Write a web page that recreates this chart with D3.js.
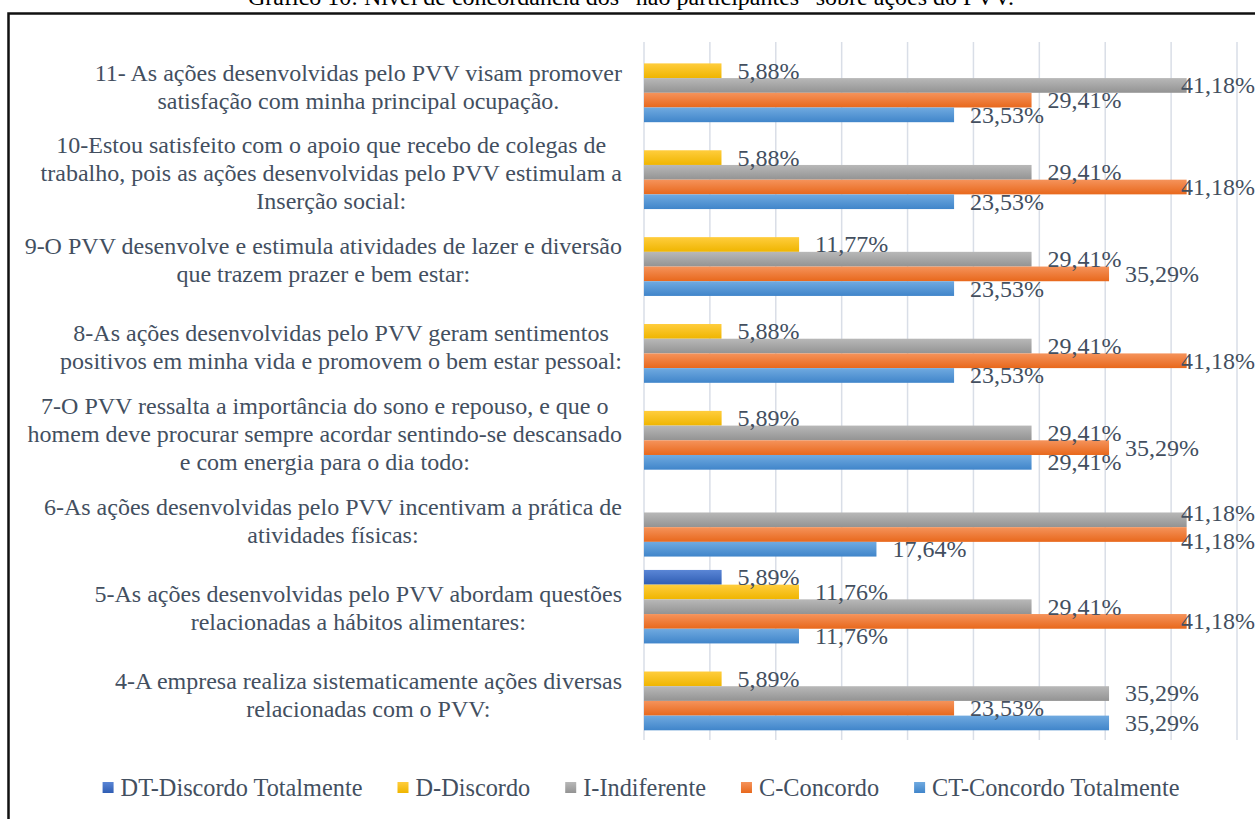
<!DOCTYPE html>
<html>
<head>
<meta charset="utf-8">
<script src="https://cdn.jsdelivr.net/npm/d3@7"></script>
<style>
  body { margin: 0; background: #fff; }
  svg { display: block; font-family: "Liberation Serif", "Times New Roman", serif; }
</style>
</head>
<body>
<svg id="chart"></svg>
<script>
// categories, top to bottom, each one split into its printed lines
var categories = ["11", "10", "9", "8", "7", "6", "5", "4"];
var categoryLines = [
  ["11- As ações desenvolvidas pelo PVV visam promover", "satisfação com minha principal ocupação."],
  ["10-Estou satisfeito com o apoio que recebo de colegas de", "trabalho, pois as ações desenvolvidas pelo PVV estimulam a", "Inserção social:"],
  ["9-O PVV desenvolve e estimula atividades de lazer e diversão", "que trazem prazer e bem estar:"],
  ["8-As ações desenvolvidas pelo PVV geram sentimentos", "positivos em minha vida e promovem o bem estar pessoal:"],
  ["7-O PVV ressalta a importância do sono e repouso, e que o", "homem deve procurar sempre acordar sentindo-se descansado", "e com energia para o dia todo:"],
  ["6-As ações desenvolvidas pelo PVV incentivam a prática de", "atividades físicas:"],
  ["5-As ações desenvolvidas pelo PVV abordam questões", "relacionadas a hábitos alimentares:"],
  ["4-A empresa realiza sistematicamente ações diversas", "relacionadas com o PVV:"]
];
var seriesNames = ["DT-Discordo Totalmente", "D-Discordo", "I-Indiferente", "C-Concordo", "CT-Concordo Totalmente"];
// one value per category (same order as categories), null = no bar
var dtValues = [null, null, null, null, null, null, 5.89, null];
var dValues  = [5.88, 5.88, 11.77, 5.88, 5.89, null, 11.76, 5.89];
var iValues  = [41.18, 29.41, 29.41, 29.41, 29.41, 41.18, 29.41, 35.29];
var cValues  = [29.41, 41.18, 35.29, 41.18, 35.29, 41.18, 41.18, 23.53];
var ctValues = [23.53, 23.53, 23.53, 23.53, 29.41, 17.64, 11.76, 35.29];
var xTicks = [0, 5, 10, 15, 20, 25, 30, 35, 40, 45];
var title = "Gráfico 10: Nível de concordância dos “não participantes” sobre ações do PVV.";

var seriesValues = [dtValues, dValues, iValues, cValues, ctValues];
var gradients = [
  ["#5a86d6", "#2f5db3"],
  ["#ffcd3d", "#efb500"],
  ["#b8b8b8", "#939393"],
  ["#f5935b", "#e8681c"],
  ["#70aae0", "#4085ca"]
];
var textColor = "#434f5f";
var fontSize = "24px";

var W = 1255, H = 819;
var svg = d3.select("#chart").attr("width", W).attr("height", H);

var defs = svg.append("defs");
gradients.forEach(function(g, i) {
  var lg = defs.append("linearGradient").attr("id", "grad" + i)
    .attr("x1", 0).attr("y1", 0).attr("x2", 0).attr("y2", 1);
  lg.append("stop").attr("offset", "0%").attr("stop-color", g[0]);
  lg.append("stop").attr("offset", "100%").attr("stop-color", g[1]);
});

// title (cut by the top of the page) and frame
svg.append("text")
  .attr("x", 631).attr("y", 5)
  .attr("text-anchor", "middle")
  .style("font-size", fontSize)
  .attr("fill", "#000")
  .text(title);

svg.append("rect")
  .attr("x", 8.5).attr("y", 13.5)
  .attr("width", 1300).attr("height", 900)
  .attr("fill", "none")
  .attr("stroke", "#111")
  .attr("stroke-width", 2.5);

var plot = { left: 644, right: 1237, top: 42, bottom: 737 };

var x = d3.scaleLinear().domain([0, 45]).range([plot.left, plot.right]);
var y = d3.scaleBand().domain(categories)
  .range([plot.top, plot.bottom])
  .paddingInner(0.154).paddingOuter(0.077);
var ys = d3.scaleBand().domain(d3.range(seriesNames.length)).range([0, y.bandwidth()]);

// gridlines
svg.append("g").selectAll("line")
  .data(xTicks)
  .enter().append("line")
    .attr("x1", function(d) { return x(d); })
    .attr("x2", function(d) { return x(d); })
    .attr("y1", plot.top)
    .attr("y2", plot.bottom + 3)
    .attr("stroke", "#d9dee7")
    .attr("stroke-width", 1.5);

var fmt = d3.formatLocale({ decimal: ",", thousands: ".", grouping: [3], currency: ["", ""] }).format(".2f");

var groups = svg.append("g").selectAll("g")
  .data(categories)
  .enter().append("g")
    .attr("transform", function(d) { return "translate(0," + y(d) + ")"; });

groups.each(function(c, ci) {
  var g = d3.select(this);
  var items = seriesValues.map(function(vals, si) { return { s: si, v: vals[ci] }; })
    .filter(function(e) { return e.v != null; });

  g.selectAll("rect")
    .data(items)
    .enter().append("rect")
      .attr("x", x(0))
      .attr("y", function(d) { return ys(d.s); })
      .attr("width", function(d) { return x(d.v) - x(0); })
      .attr("height", ys.bandwidth())
      .attr("fill", function(d) { return "url(#grad" + d.s + ")"; });

  var labels = g.selectAll("text")
    .data(items)
    .enter().append("text")
      .attr("x", function(d) { return Math.min(x(d.v) + 16, plot.right - 56); })
      .attr("dy", "0.33em")
      .style("font-size", fontSize)
      .attr("fill", textColor)
      .text(function(d) { return fmt(d.v) + "%"; });

  // spread labels that would sit on top of each other
  labels.each(function(d) {
    d.lx = +d3.select(this).attr("x");
    d.lw = this.getComputedTextLength();
    d.ly = ys(d.s) + ys.bandwidth() / 2;
  });
  for (var i = 1; i < items.length; i++) {
    var a = items[i - 1], b = items[i];
    var xOverlap = a.lx < b.lx + b.lw && b.lx < a.lx + a.lw;
    var gap = b.ly - a.ly;
    if (xOverlap && gap < 28) {
      var push = (28 - gap) / 2;
      a.ly -= push;
      b.ly += push;
    }
  }
  labels.attr("y", function(d) { return d.ly; });
});

// category labels: block right aligned, lines centered inside it
var lineH = 28;
var labelRight = 622;
categories.forEach(function(c, ci) {
  var lines = categoryLines[ci];
  var cy = y(c) + y.bandwidth() / 2;
  var t = svg.append("g");
  var texts = lines.map(function(line, li) {
    return t.append("text")
      .attr("y", cy + (li - (lines.length - 1) / 2) * lineH)
      .attr("dy", "0.38em")
      .attr("text-anchor", "middle")
      .style("font-size", fontSize)
      .attr("fill", textColor)
      .text(line);
  });
  var maxW = d3.max(texts, function(tx) { return tx.node().getComputedTextLength(); });
  texts.forEach(function(tx) { tx.attr("x", labelRight - maxW / 2); });
});

// legend
var legend = svg.append("g");
var lx = 0;
seriesNames.forEach(function(name, i) {
  var item = legend.append("g").attr("transform", "translate(" + lx + ",0)");
  item.append("rect")
    .attr("x", 0).attr("y", -6)
    .attr("width", 11).attr("height", 11)
    .attr("fill", "url(#grad" + i + ")");
  var tx = item.append("text")
    .attr("x", 18).attr("y", 0)
    .attr("dy", "0.33em")
    .style("font-size", "24.3px")
    .attr("fill", textColor)
    .text(name);
  lx += 18 + tx.node().getComputedTextLength() + 35;
});
lx -= 35;
legend.attr("transform", "translate(" + (641 - lx / 2) + ",788)");
</script>
</body>
</html>
